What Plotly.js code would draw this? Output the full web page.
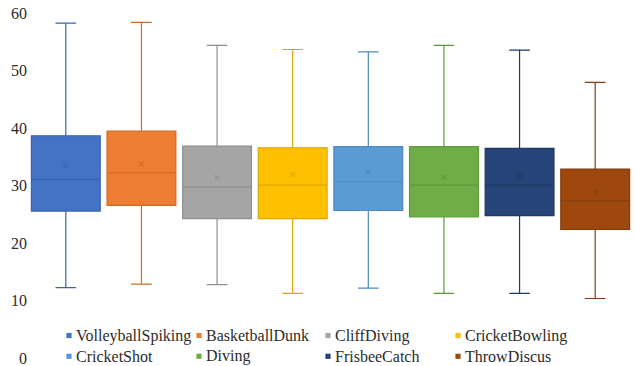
<!DOCTYPE html>
<html>
<head>
<meta charset="utf-8">
<script src="https://cdn.plot.ly/plotly-3.0.1.min.js"></script>
<style>
  html, body { margin: 0; padding: 0; background: #fff; }
  #chart { width: 635px; height: 366px; }
</style>
</head>
<body>
<div id="chart"></div>
<script>
// Activity categories and their five-number summaries plus means
const categories = ['VolleyballSpiking', 'BasketballDunk', 'CliffDiving', 'CricketBowling',
                    'CricketShot', 'Diving', 'FrisbeeCatch', 'ThrowDiscus'];
const lowerWhisker = [12.6, 13.2, 13.1, 11.6, 12.5, 11.6, 11.6, 10.7];
const q1Values     = [25.9, 26.9, 24.6, 24.6, 26.0, 24.9, 25.1, 22.7];
const medianValues = [31.4, 32.6, 30.1, 30.4, 31.0, 30.4, 30.4, 27.7];
const q3Values     = [39.0, 39.8, 37.2, 36.9, 37.1, 37.1, 36.8, 33.2];
const upperWhisker = [58.6, 58.7, 54.7, 54.0, 53.6, 54.7, 53.9, 48.3];
const meanValues   = [33.8, 34.1, 31.7, 32.3, 32.7, 31.8, 32.0, 29.2];
const yTicks       = [0, 10, 20, 30, 40, 50, 60];

const fillColors = ['#4472C4', '#ED7D31', '#A5A5A5', '#FFC000', '#5B9BD5', '#70AD47', '#264478', '#9E480E'];
const lineColors = ['#3A64B0', '#D36B26', '#8F8F8F', '#DDA700', '#4E88BF', '#5E9A3A', '#1E3860', '#843C0C'];

const labelFont = { family: 'Liberation Serif', size: 16, color: '#2b2b2b' };

const traces = categories.map((name, i) => ({
  type: 'box',
  name: name,
  x: [name],
  q1: [q1Values[i]],
  median: [medianValues[i]],
  q3: [q3Values[i]],
  lowerfence: [lowerWhisker[i]],
  upperfence: [upperWhisker[i]],
  width: 0.91,
  whiskerwidth: 0.3,
  fillcolor: fillColors[i],
  line: { color: lineColors[i], width: 1.2 },
  showlegend: false,
  hoverinfo: 'skip'
}));

// Mean markers drawn as small crosses inside each box
traces.push({
  type: 'scatter',
  mode: 'markers',
  x: categories,
  y: meanValues,
  marker: {
    symbol: 'x-thin',
    size: 5,
    line: { width: 1.3, color: lineColors.slice() }
  },
  opacity: 0.75,
  showlegend: false,
  hoverinfo: 'skip'
});

// Legend laid out as a 4 x 2 grid under the boxes
const plotLeft = 28, plotRight = 633, plotTop = 15, plotBottom = 360;
const colText = [75, 205, 334, 464];
const rowCenter = [335.5, 356.3];
const shapes = [];
const annotations = [];
categories.forEach((name, i) => {
  const col = i % 4, row = Math.floor(i / 4);
  const px = colText[col];
  const xp = (px - plotLeft) / (plotRight - plotLeft);
  const xm = (px - 6 - plotLeft) / (plotRight - plotLeft);
  const yp = (plotBottom - rowCenter[row]) / (plotBottom - plotTop);
  shapes.push({
    type: 'rect', xref: 'paper', yref: 'paper',
    xsizemode: 'pixel', ysizemode: 'pixel',
    xanchor: xm, yanchor: yp,
    x0: -2.6, x1: 2.6, y0: -2.6, y1: 2.6,
    fillcolor: fillColors[i], line: { width: 0 }
  });
  annotations.push({
    xref: 'paper', yref: 'paper', x: xp, y: yp,
    xanchor: 'left', yanchor: 'middle', showarrow: false,
    text: name, xshift: -1,
    font: Object.assign({}, labelFont)
  });
});

const layout = {
  width: 635,
  height: 366,
  margin: { l: plotLeft, r: 635 - plotRight, t: plotTop, b: 366 - plotBottom },
  paper_bgcolor: '#ffffff',
  plot_bgcolor: '#ffffff',
  font: Object.assign({}, labelFont),
  boxmode: 'overlay',
  showlegend: false,
  xaxis: {
    type: 'category',
    range: [-0.5, categories.length - 0.5],
    showticklabels: false,
    showgrid: false, zeroline: false, showline: false, ticks: ''
  },
  yaxis: {
    range: [0, 60],
    tickvals: yTicks,
    ticktext: yTicks.map(String),
    showgrid: false, zeroline: false, showline: false, ticks: '',
    ticklabeloverflow: 'allow',
    ticklabelshift: -2,
    tickfont: Object.assign({}, labelFont)
  },
  shapes: shapes,
  annotations: annotations
};

Plotly.newPlot('chart', traces, layout, { displayModeBar: false, staticPlot: true });
</script>
</body>
</html>
